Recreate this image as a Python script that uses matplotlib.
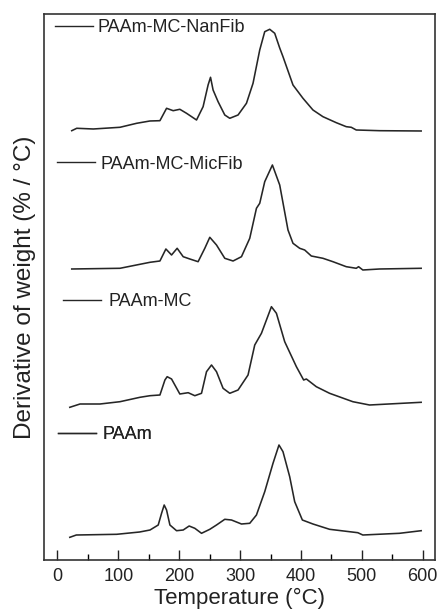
import matplotlib
matplotlib.use("Agg")
import matplotlib.pyplot as plt
from matplotlib.lines import Line2D
from matplotlib.ticker import MultipleLocator, NullLocator

plt.rcParams['font.family'] = ['Liberation Sans', 'DejaVu Sans']

# Temperatures (°C) and derivative-of-weight values (arbitrary, offset per curve)
t_nanfib = [23.6, 31.8, 59, 102.8, 130.2, 152, 168.4, 179.3, 190.2, 201.1, 212.1, 228.5, 239.3,
            247.5, 251.5, 255.7, 263.9, 274.9, 283.1, 296.7, 310.5, 321.3, 332.3, 340.5,
            348.7, 356.9, 365.1, 370.5, 386.9, 403.3, 419.7, 436.1, 458, 474.4, 482.6,
            490.8, 529, 597.4]
y_nanfib = [429.3, 431.7, 431, 432.7, 436.7, 439, 439.3, 451.7, 449.3, 450.7, 446.7, 440, 453.3,
            475, 482.7, 470, 458.3, 445, 441.7, 445, 456.7, 476.7, 510, 528.3,
            530.7, 526.7, 512, 503.3, 475, 461.7, 450, 443.3, 437.3, 433.3, 432.7,
            430, 429.3, 429]

t_micfib = [23.6, 102.8, 135.6, 152.1, 168.4, 178.2, 187.5, 196.7, 206.6, 217.5, 231.1,
            242.1, 250.3, 261.3, 274.9, 288.5, 302.3, 315.9, 326.9, 332.3, 340.5, 353.1,
            365.1, 378.7, 386.9, 397.9, 406.1, 417, 436.1, 452.5, 474.4, 490.8, 494.6,
            501.6, 529, 597.4]
y_micfib = [291, 291.7, 295.7, 297.7, 299, 311, 305, 311.7, 303.3, 301, 298.3,
            311.7, 322.7, 315, 301.7, 299, 303.3, 321.7, 351.7, 356.7, 378.3, 395,
            375, 330, 316.7, 311.7, 310, 304, 301.7, 298.3, 293.3, 291.7, 293.3,
            290, 291, 291.7]

t_mc = [20.4, 37.2, 70, 102.8, 135.6, 152.1, 168.4, 176.6, 180.3, 187.5, 201.1, 214.8,
        225.7, 236.7, 244.9, 253.1, 261.3, 272.1, 283.1, 296.7, 313.1, 324.1, 335.1,
        351.5, 359.7, 373.3, 392.5, 404.4, 408.9, 425.2, 447, 485.2, 512.6, 597.4]
y_mc = [152.7, 156, 156, 158.3, 162.7, 164.3, 165, 180, 183.3, 181, 166, 167.3,
        164.3, 166.7, 188.3, 195, 188.3, 171.7, 166.7, 170, 185, 215, 226.7,
        253.3, 246.7, 218.3, 193.3, 180, 181, 173.3, 166.7, 158.3, 155, 157.7]

t_paam = [20.4, 31.1, 97.4, 135, 152.1, 165.6, 171.1, 175.4, 179.3, 184.8, 195.7, 206.6,
          216.4, 225.7, 236.7, 250.3, 261.3, 274.9, 285.9, 302.3, 315.9, 326.9, 340.5,
          354.1, 363.9, 370.5, 381.5, 389.7, 402.3, 419.7, 447, 493.4, 501.6, 561.8, 597.4]
y_paam = [22.7, 25, 25.7, 28, 30, 35, 46.7, 55, 50, 35, 29.3, 30,
          34, 31.7, 26.7, 30.7, 35, 40.7, 40, 36, 36.7, 45, 68.3,
          96.7, 115, 108.3, 83.3, 58.3, 40, 36, 30.7, 27.3, 25, 26.7, 29.3]

labels = ['PAAm-MC-NanFib', 'PAAm-MC-MicFib', 'PAAm-MC', 'PAAm']
series_t = [t_nanfib, t_micfib, t_mc, t_paam]
series_y = [y_nanfib, y_micfib, y_mc, y_paam]
x_ticks = [0, 100, 200, 300, 400, 500, 600]

line_color = '#262626'

fig = plt.figure(figsize=(4.42, 6.16), dpi=100)
ax = fig.add_axes([0.0995, 0.0909, 0.8845, 0.8864])

for t, y in zip(series_t, series_y):
    ax.plot(t, y, color=line_color, lw=1.15)

ax.set_xlim(-22, 620)
ax.set_ylim(0, 546)
ax.set_xticks(x_ticks)
ax.xaxis.set_minor_locator(MultipleLocator(50))
ax.yaxis.set_major_locator(NullLocator())
ax.tick_params(axis='x', which='major', direction='in', length=7, width=1.0,
               labelsize=13, pad=6, colors='#222222', top=False)
ax.tick_params(axis='x', which='minor', direction='in', length=4, width=1.0, top=False)
for s in ax.spines.values():
    s.set_color('#333333')
    s.set_linewidth(1.2)

ax.set_xlabel('Temperature (\u00b0C)', fontsize=16, color='#222222', labelpad=2)
ax.set_ylabel('Derivative of weight (% / \u00b0C)', fontsize=17.5, color='#222222', labelpad=6)

anchors = [(0.028, 0.975, 0.25), (0.0325, 0.725, 0.3), (0.049, 0.473, 0.4), (0.0366, 0.229, 0.35)]
for lab, (ax_x, ax_y, pad) in zip(labels, anchors):
    h = Line2D([], [], color=line_color, lw=1.0)
    leg = ax.legend([h], [lab], loc='center left', bbox_to_anchor=(ax_x, ax_y),
                    frameon=False, fontsize=13, borderpad=0, borderaxespad=0,
                    handlelength=2.1, handletextpad=pad, labelcolor='#222222')
    ax.add_artist(leg)

fig.savefig('out.png', dpi=100)
